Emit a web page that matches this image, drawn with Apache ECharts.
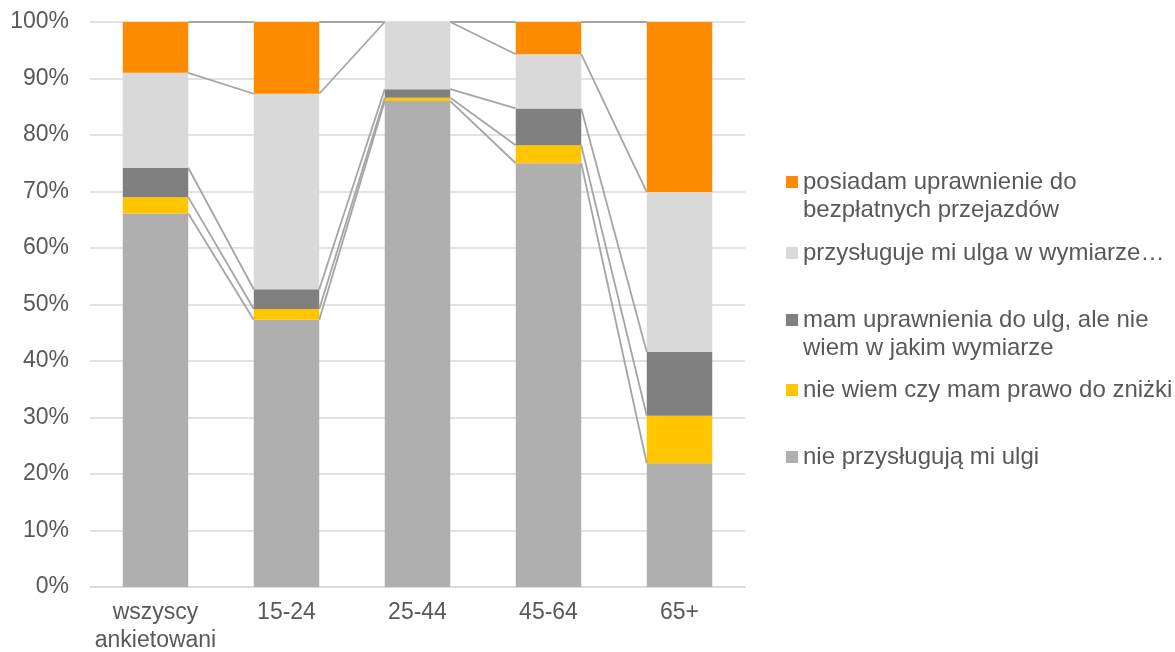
<!DOCTYPE html>
<html>
<head>
<meta charset="utf-8">
<script src="https://cdn.jsdelivr.net/npm/echarts@6/dist/echarts.min.js"></script>
<style>
  html, body { margin: 0; padding: 0; background: #ffffff; }
  #chart { width: 1175px; height: 652px; }
</style>
</head>
<body>
<div id="chart"></div>
<script>
// Age groups on the x axis
const categories = ['wszyscy\nankietowani', '15-24', '25-44', '45-64', '65+'];

// Shares (%) of each answer, bottom of the stack first
const nieprzyslugujaUlgi = [66.1, 47.3, 86.0, 75.0, 21.9];
const nieWiemCzyMamPrawo = [2.9, 1.9, 0.6, 3.2, 8.4];
const mamUprawnieniaNieWiem = [5.2, 3.5, 1.5, 6.5, 11.3];
const przyslugujeUlga = [16.8, 34.6, 11.9, 9.6, 28.3];
const bezplatnePrzejazdy = [9.0, 12.7, 0.0, 5.7, 30.1];

// Y axis tick settings
const yTicks = { min: 0, max: 100, interval: 10 };

const seriesDefs = [
  { name: 'nie przysługują mi ulgi', data: nieprzyslugujaUlgi, color: '#AFAFAF' },
  { name: 'nie wiem czy mam prawo do zniżki', data: nieWiemCzyMamPrawo, color: '#FFC600' },
  { name: 'mam uprawnienia do ulg, ale nie\nwiem w jakim wymiarze', data: mamUprawnieniaNieWiem, color: '#808080' },
  { name: 'przysługuje mi ulga w wymiarze…', data: przyslugujeUlga, color: '#D9D9D9' },
  { name: 'posiadam uprawnienie do\nbezpłatnych przejazdów', data: bezplatnePrzejazdy, color: '#FF8C00' }
];

// Cumulative top of every stacked segment, used by the series lines
const cumulativeTops = [];
(function () {
  const running = categories.map(() => 0);
  seriesDefs.forEach(s => {
    s.data.forEach((v, i) => { running[i] += v; });
    cumulativeTops.push(running.slice());
  });
})();

const FONT = "'Liberation Sans', Arial, sans-serif";
const TEXT_COLOR = '#595959';
const BAR_RATIO = 0.5;
const LINE_H = 28;
const ICON = 12;

const chart = echarts.init(document.getElementById('chart'), null, { renderer: 'canvas' });

const barSeries = seriesDefs.map(s => ({
  name: s.name,
  type: 'bar',
  stack: 'total',
  barWidth: (BAR_RATIO * 100) + '%',
  data: s.data,
  itemStyle: { color: s.color },
  emphasis: { disabled: true },
  z: 2
}));

// Connector lines between the tops of matching segments in neighbouring bars
const connectorSeries = {
  type: 'custom',
  silent: true,
  z: 3,
  data: categories.slice(0, -1).map((c, i) => [i]),
  encode: { x: 0 },
  renderItem: function (params, api) {
    const i = api.value(0);
    const half = api.size([1, 0])[0] * BAR_RATIO / 2;
    const children = cumulativeTops.map(tops => {
      const p1 = api.coord([i, tops[i]]);
      const p2 = api.coord([i + 1, tops[i + 1]]);
      return {
        type: 'line',
        shape: { x1: p1[0] + half, y1: p1[1], x2: p2[0] - half, y2: p2[1] },
        style: { stroke: '#A5A5A5', lineWidth: 1.8 }
      };
    });
    return { type: 'group', children: children };
  }
};

// Square marker aligned with the first text line of a multi-line legend entry
function topAlignedSquare(blockH) {
  const y0 = LINE_H / 2 - ICON / 2;
  return 'path://M0,0L0,0.01M0,' + y0 + 'L' + ICON + ',' + y0 + 'L' + ICON + ',' + (y0 + ICON) +
    'L0,' + (y0 + ICON) + 'Z M0,' + (blockH - 0.01) + 'L0,' + blockH;
}

// One legend block per answer so each can sit at its own height
const legendItems = [
  { name: seriesDefs[4].name, center: 196, lines: 2 },
  { name: seriesDefs[3].name, center: 253, lines: 1 },
  { name: seriesDefs[2].name, center: 334, lines: 2 },
  { name: seriesDefs[1].name, center: 390, lines: 1 },
  { name: seriesDefs[0].name, center: 457, lines: 1 }
];
const legends = legendItems.map(item => {
  const blockH = item.lines * LINE_H;
  const multi = item.lines > 1;
  return {
    left: 786,
    top: item.center - blockH / 2,
    orient: 'vertical',
    padding: 0,
    itemWidth: ICON,
    itemHeight: multi ? blockH : ICON,
    selectedMode: false,
    icon: multi ? topAlignedSquare(blockH) : 'rect',
    data: [item.name],
    textStyle: {
      fontFamily: FONT,
      fontSize: 24,
      color: TEXT_COLOR,
      lineHeight: LINE_H
    }
  };
});

chart.setOption({
  animation: false,
  backgroundColor: '#ffffff',
  grid: { left: 90, right: 430, top: 22, bottom: 65, containLabel: false, outerBoundsMode: 'none' },
  legend: legends,
  xAxis: {
    type: 'category',
    data: categories,
    axisTick: { show: false },
    axisLine: { lineStyle: { color: '#D9D9D9', width: 1.5 } },
    axisLabel: {
      color: TEXT_COLOR,
      fontFamily: FONT,
      fontSize: 23,
      lineHeight: LINE_H,
      margin: 12,
      interval: 0
    }
  },
  yAxis: {
    type: 'value',
    min: yTicks.min,
    max: yTicks.max,
    interval: yTicks.interval,
    axisLine: { show: false },
    axisTick: { show: false },
    splitLine: { lineStyle: { color: '#D9D9D9', width: 1.5 } },
    axisLabel: {
      formatter: '{value}%',
      color: TEXT_COLOR,
      fontFamily: FONT,
      fontSize: 23,
      margin: 21
    }
  },
  series: barSeries.concat([connectorSeries])
});
</script>
</body>
</html>
